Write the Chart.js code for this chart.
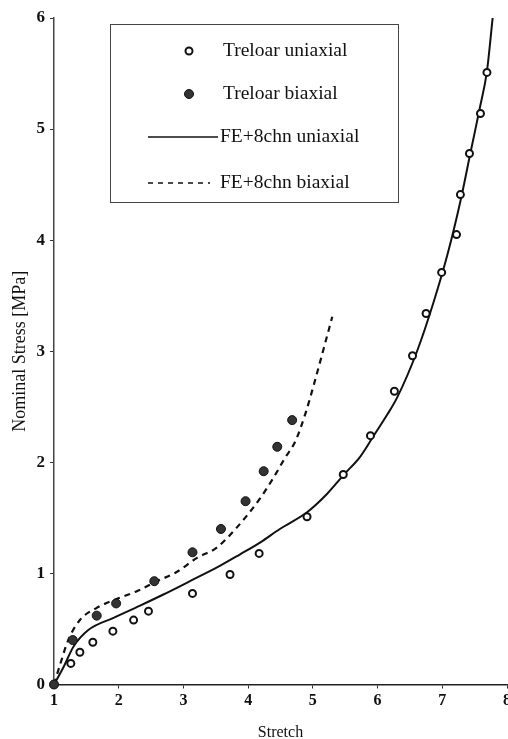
<!DOCTYPE html>
<html>
<head>
<meta charset="utf-8">
<title>Treloar data vs FE+8chn</title>
<script src="https://cdn.jsdelivr.net/npm/chart.js@4.4.1/dist/chart.umd.min.js"></script>
<style>
    html, body { margin: 0; padding: 0; background: #fff; overflow: hidden; }
    #wrap { width: 508px; height: 739px; }
</style>
</head>
<body>
<div id="wrap"><canvas id="stress" width="508" height="739"></canvas></div>
<script>
// Treloar test data
const uniStretch = [1, 1.26, 1.40, 1.60, 1.91, 2.23, 2.46, 3.14, 3.72, 4.17, 4.91, 5.47, 5.89, 6.26, 6.54, 6.75, 6.99, 7.22, 7.28, 7.42, 7.59, 7.69];
const uniStress = [0, 0.19, 0.29, 0.38, 0.48, 0.58, 0.66, 0.82, 0.99, 1.18, 1.51, 1.89, 2.24, 2.64, 2.96, 3.34, 3.71, 4.05, 4.41, 4.78, 5.14, 5.51];

const biStretch = [1, 1.29, 1.66, 1.96, 2.55, 3.14, 3.58, 3.96, 4.24, 4.45, 4.68];
const biStress = [0, 0.40, 0.62, 0.73, 0.93, 1.19, 1.40, 1.65, 1.92, 2.14, 2.38];

// FE+8chn model curves
const feUniStretch = [1, 1.15, 1.30, 1.53, 1.92, 2.33, 2.69, 3.10, 3.57, 3.87, 4.19, 4.49, 4.91, 5.21, 5.48, 5.73, 5.93, 6.15, 6.30, 6.61, 6.87, 7.08, 7.28, 7.44, 7.58, 7.69, 7.78];
const feUniStress = [0, 0.16, 0.34, 0.49, 0.60, 0.71, 0.81, 0.93, 1.07, 1.17, 1.28, 1.40, 1.55, 1.71, 1.89, 2.05, 2.23, 2.43, 2.58, 3.00, 3.45, 3.87, 4.35, 4.80, 5.19, 5.52, 6.01];

const feBiStretch = [1, 1.10, 1.22, 1.40, 1.66, 1.97, 2.28, 2.59, 2.89, 3.21, 3.51, 3.82, 4.19, 4.39, 4.57, 4.73, 4.88, 5.03, 5.17, 5.30];
const feBiStress = [0, 0.19, 0.40, 0.58, 0.69, 0.77, 0.84, 0.93, 1.01, 1.14, 1.23, 1.41, 1.68, 1.86, 2.04, 2.19, 2.43, 2.73, 3.03, 3.31];

const xTicks = [1, 2, 3, 4, 5, 6, 7, 8];
const yTicks = [0, 1, 2, 3, 4, 5, 6];

const serif = "'Liberation Serif', 'Times New Roman', serif";
const ink = "#111";

function pts(xs, ys) {
    return xs.map((x, i) => ({ x: x, y: ys[i] }));
}

// legend drawn inside the plot, like the original figure
const boxLegend = {
    id: "boxLegend",
    afterDraw(chart) {
        const ctx = chart.ctx;
        const ds = chart.data.datasets;
        ctx.save();
        ctx.strokeStyle = "#444";
        ctx.lineWidth = 1;
        ctx.strokeRect(110.5, 24.5, 288, 178);

        ctx.font = "19.5px " + serif;
        ctx.fillStyle = ink;
        ctx.textBaseline = "middle";

        // open circle
        ctx.beginPath();
        ctx.arc(189, 51, 3.5, 0, Math.PI * 2);
        ctx.strokeStyle = ink;
        ctx.lineWidth = 2;
        ctx.stroke();
        ctx.fillText(ds[0].label, 223, 51);

        // filled circle
        ctx.beginPath();
        ctx.arc(189, 94, 4.5, 0, Math.PI * 2);
        ctx.fillStyle = "#333";
        ctx.fill();
        ctx.lineWidth = 1;
        ctx.stroke();
        ctx.fillStyle = ink;
        ctx.fillText(ds[1].label, 223, 94);

        // solid line
        ctx.beginPath();
        ctx.moveTo(148, 137);
        ctx.lineTo(218, 137);
        ctx.lineWidth = 1.5;
        ctx.stroke();
        ctx.fillText(ds[2].label, 220, 137);

        // dashed line
        ctx.beginPath();
        ctx.setLineDash([5, 5]);
        ctx.moveTo(148, 183);
        ctx.lineTo(210, 183);
        ctx.stroke();
        ctx.setLineDash([]);
        ctx.fillText(ds[3].label, 220, 183);
        ctx.restore();
    }
};

window.onload = function() {
    var ctx = document.getElementById("stress").getContext("2d");
    var myChart = new Chart(ctx, {
        type: "scatter",
        data: {
            datasets: [
                {
                    label: "Treloar uniaxial",
                    data: pts(uniStretch, uniStress),
                    order: 1,
                    showLine: false,
                    clip: false,
                    pointStyle: "circle",
                    pointRadius: 3.5,
                    pointBorderWidth: 2,
                    pointBackgroundColor: "#fff",
                    pointBorderColor: ink
                },
                {
                    label: "Treloar biaxial",
                    data: pts(biStretch, biStress),
                    order: 0,
                    showLine: false,
                    clip: false,
                    pointStyle: "circle",
                    pointRadius: 4.5,
                    pointBorderWidth: 1,
                    pointBackgroundColor: "#333",
                    pointBorderColor: ink
                },
                {
                    label: "FE+8chn uniaxial",
                    data: pts(feUniStretch, feUniStress),
                    order: 2,
                    showLine: true,
                    pointRadius: 0,
                    borderColor: ink,
                    borderWidth: 2,
                    cubicInterpolationMode: "monotone"
                },
                {
                    label: "FE+8chn biaxial",
                    data: pts(feBiStretch, feBiStress),
                    order: 3,
                    showLine: true,
                    pointRadius: 0,
                    borderColor: ink,
                    borderWidth: 2.2,
                    borderDash: [6, 5],
                    cubicInterpolationMode: "monotone"
                }
            ]
        },
        options: {
            responsive: false,
            animation: false,
            devicePixelRatio: 1,
            layout: { autoPadding: false, padding: { top: 18, right: 1, left: 0, bottom: 0 } },
            plugins: {
                legend: { display: false },
                tooltip: { enabled: false }
            },
            scales: {
                x: {
                    type: "linear",
                    min: 1,
                    max: 8,
                    afterBuildTicks: s => { s.ticks = xTicks.map(v => ({ value: v })); },
                    afterFit: s => {
                        s.height = 54.5;
                        s.paddingLeft = 0;
                        s.paddingRight = 0;
                    },
                    ticks: {
                        color: ink,
                        padding: 3,
                        maxRotation: 0,
                        font: { family: serif, size: 16, weight: "bold" }
                    },
                    grid: { drawOnChartArea: false, tickLength: 4, color: "#333" },
                    border: { display: true, color: "#222", width: 1.5 },
                    title: {
                        display: true,
                        text: "Stretch",
                        color: ink,
                        padding: { top: 0, bottom: 0 },
                        font: { family: serif, size: 16, lineHeight: 0.8 }
                    }
                },
                y: {
                    type: "linear",
                    min: 0,
                    max: 6,
                    afterBuildTicks: s => { s.ticks = yTicks.map(v => ({ value: v })); },
                    afterFit: s => {
                        s.width = 54;
                        s.paddingTop = 0;
                        s.paddingBottom = 0;
                    },
                    ticks: {
                        color: ink,
                        padding: 5,
                        font: { family: serif, size: 17, weight: "bold" }
                    },
                    grid: { drawOnChartArea: false, tickLength: 4, color: "#333" },
                    border: { display: true, color: "#444", width: 1.5 },
                    title: {
                        display: true,
                        text: "Nominal Stress [MPa]",
                        color: ink,
                        padding: { top: 9, bottom: 0 },
                        font: { family: serif, size: 18 }
                    }
                }
            }
        },
        plugins: [boxLegend]
    });
};
</script>
</body>
</html>
